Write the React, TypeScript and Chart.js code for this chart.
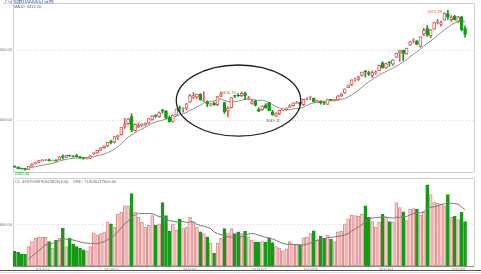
import React, { useEffect, useRef } from "react";
import { Chart, registerables } from "chart.js";

Chart.register(...registerables);

const dates: string[] = [
  "2014/10/22", "2014/10/23", "2014/10/24", "2014/10/27", "2014/10/28", "2014/10/29", "2014/10/30", "2014/10/31",
  "2014/11/03", "2014/11/04", "2014/11/05", "2014/11/06", "2014/11/07", "2014/11/10", "2014/11/11", "2014/11/12", "2014/11/13", "2014/11/14",
  "2014/11/17", "2014/11/18", "2014/11/19", "2014/11/20", "2014/11/21", "2014/11/24", "2014/11/25", "2014/11/26", "2014/11/27", "2014/11/28",
  "2014/12/01", "2014/12/02", "2014/12/03", "2014/12/04", "2014/12/05", "2014/12/08", "2014/12/09", "2014/12/10", "2014/12/11", "2014/12/12",
  "2014/12/15", "2014/12/16", "2014/12/17", "2014/12/18", "2014/12/19", "2014/12/22", "2014/12/23", "2014/12/24", "2014/12/25", "2014/12/26",
  "2014/12/29", "2014/12/30", "2014/12/31",
  "2015/01/05", "2015/01/06", "2015/01/07", "2015/01/08", "2015/01/09", "2015/01/12", "2015/01/13", "2015/01/14", "2015/01/15", "2015/01/16",
  "2015/01/19", "2015/01/20", "2015/01/21", "2015/01/22", "2015/01/23", "2015/01/26", "2015/01/27", "2015/01/28", "2015/01/29", "2015/01/30",
  "2015/02/02", "2015/02/03", "2015/02/04", "2015/02/05", "2015/02/06", "2015/02/09", "2015/02/10", "2015/02/11", "2015/02/12", "2015/02/13",
  "2015/02/16", "2015/02/17", "2015/02/25", "2015/02/26", "2015/02/27",
  "2015/03/02", "2015/03/03", "2015/03/04", "2015/03/05", "2015/03/06", "2015/03/09", "2015/03/10", "2015/03/11", "2015/03/12", "2015/03/13",
  "2015/03/16", "2015/03/17", "2015/03/18", "2015/03/19", "2015/03/20", "2015/03/23", "2015/03/24", "2015/03/25", "2015/03/26", "2015/03/27",
  "2015/03/30", "2015/03/31",
  "2015/04/01", "2015/04/02", "2015/04/03", "2015/04/07", "2015/04/08", "2015/04/09", "2015/04/10", "2015/04/13", "2015/04/14", "2015/04/15",
  "2015/04/16", "2015/04/17", "2015/04/20", "2015/04/21", "2015/04/22", "2015/04/23", "2015/04/24", "2015/04/27", "2015/04/28", "2015/04/29",
  "2015/04/30",
  "2015/05/04", "2015/05/05", "2015/05/06",
];

const opens: number[] = [
  2340, 2325, 2306, 2300, 2292, 2340, 2372, 2395,
  2418, 2428, 2435, 2415, 2428, 2430, 2480, 2465, 2495, 2486, 2490, 2475, 2458, 2448, 2450, 2520, 2530, 2568, 2605, 2630,
  2700, 2680, 2760, 2790, 2910, 2950, 3050, 2850, 2900, 2925, 2930, 2955, 3010, 3070, 3050, 3140, 3125, 3040, 2980, 3075, 3180, 3160, 3170,
  3258, 3330, 3327, 3371, 3270, 3258, 3217, 3240, 3221, 3343, 3250, 3130, 3180, 3350, 3360, 3350, 3385, 3300, 3240, 3273,
  3150, 3150, 3212, 3250, 3120, 3055, 3092, 3143, 3154, 3186, 3206, 3240, 3258, 3222, 3297,
  3332, 3317, 3264, 3264, 3250, 3225, 3298, 3287, 3291, 3350, 3391, 3466, 3510, 3578, 3582, 3641, 3700, 3680, 3640, 3680, 3710, 3822,
  3748, 3835, 3803, 3899, 3962, 4000, 3950, 4073, 4130, 4135, 4056, 4236, 4312, 4209, 4304, 4399, 4371, 4432, 4528, 4441, 4488,
  4420, 4479, 4311,
];

const highs: number[] = [
  2345, 2330, 2310, 2302, 2338, 2375, 2395, 2423,
  2435, 2438, 2442, 2428, 2435, 2478, 2503, 2495, 2500, 2490, 2508, 2480, 2462, 2458, 2490, 2535, 2568, 2605, 2632, 2683,
  2715, 2765, 2785, 2900, 3026, 3025, 3091, 2945, 2960, 2950, 2960, 3022, 3065, 3080, 3120, 3157, 3140, 3060, 3075, 3158, 3200, 3180, 3239,
  3370, 3394, 3374, 3381, 3404, 3275, 3245, 3262, 3336, 3400, 3260, 3190, 3323, 3360, 3375, 3406.79, 3400, 3340, 3290, 3288,
  3176, 3205, 3238, 3253, 3140, 3105, 3141, 3160, 3175, 3220, 3247, 3270, 3260, 3300, 3324,
  3337, 3317, 3286, 3280, 3266, 3303, 3298, 3298, 3350, 3384, 3449, 3503, 3578, 3601, 3632, 3688, 3715, 3700, 3705, 3706, 3790, 3835,
  3817, 3835, 3866, 3961, 4000, 4003, 4034, 4128, 4168, 4140, 4194, 4317, 4356, 4300, 4400, 4444, 4420, 4529, 4572.39, 4499, 4502,
  4488, 4489, 4350,
];

const lows: number[] = [
  2320, 2300, 2295, 2282.54, 2290, 2338, 2368, 2392,
  2410, 2418, 2410, 2410, 2412, 2428, 2440, 2460, 2478, 2468, 2470, 2455, 2440, 2440, 2448, 2505, 2525, 2560, 2595, 2620,
  2660, 2670, 2720, 2785, 2880, 2930, 2834, 2840, 2890, 2910, 2920, 2945, 3000, 3040, 3040, 3100, 3020, 2970, 2970, 3070, 3110, 3115, 3150,
  3254, 3303, 3312, 3285, 3267, 3191, 3200, 3210, 3207, 3337, 3095, 3045, 3170, 3320, 3340, 3337, 3295, 3290, 3230, 3205,
  3122, 3140, 3170, 3135, 3070, 3049.11, 3080, 3135, 3140, 3178, 3200, 3238, 3212, 3210, 3290,
  3293, 3260, 3250, 3230, 3221, 3225, 3276, 3273, 3283, 3340, 3383, 3465, 3494, 3557, 3570, 3630, 3617, 3640, 3609, 3655, 3707, 3745,
  3742, 3771, 3785, 3899, 3843, 3855, 3940, 4070, 4110, 4081, 4045, 4211, 4199, 4180, 4299, 4380, 4348, 4432, 4442, 4413, 4434,
  4400, 4280, 4189,
];

const closes: number[] = [
  2327, 2302, 2302, 2290, 2337, 2373, 2391, 2420,
  2430, 2431, 2419, 2425, 2418, 2473, 2469, 2494, 2485, 2478, 2474, 2456, 2450, 2452, 2487, 2532, 2567, 2604, 2630, 2683,
  2680, 2763, 2779, 2899, 2937, 3020, 2856, 2940, 2925, 2938, 2953, 3021, 3061, 3057, 3108, 3128, 3032, 2977, 3072, 3157, 3168, 3165, 3234,
  3350, 3351, 3373, 3293, 3285, 3229, 3235, 3222, 3336, 3376, 3117, 3173, 3323, 3343, 3351, 3383, 3352, 3305, 3262, 3210,
  3128, 3204, 3174, 3136, 3075, 3095, 3141, 3157, 3173, 3203, 3246, 3247, 3228, 3298, 3310,
  3336, 3263, 3279, 3248, 3241, 3302, 3286, 3290, 3349, 3372, 3449, 3502, 3577, 3582, 3617, 3687, 3691, 3660, 3682, 3691, 3786, 3748,
  3810, 3825, 3863, 3961, 3995, 3957, 4034, 4121, 4135, 4084, 4194, 4287, 4217, 4293, 4398, 4414, 4393, 4527, 4476, 4476, 4441,
  4480, 4298, 4229,
];

// turnover, 亿元
const volumes: number[] = [
  1620, 1550, 1330, 1330, 2160, 2700, 3060, 3240,
  3170, 3170, 2700, 1980, 2880, 3060, 4210, 2160, 3060, 2410, 2160, 1980, 1800, 1690, 2160, 3670, 3420, 3600, 3780, 4860,
  4680, 4320, 5760, 5940, 6660, 6660, 8030, 5940, 5400, 4860, 4320, 4500, 5580, 4500, 4680, 7020, 5580, 3850, 4680, 3960, 5220, 4140, 4320,
  5400, 4860, 4320, 3780, 3600, 3240, 2520, 1440, 2520, 3060, 4140, 3600, 4140, 3600, 3780, 3600, 3850, 3240, 2880, 2630,
  2630, 2700, 2630, 3130, 2590, 2160, 1980, 1690, 1910, 2700, 2410, 2410, 2340, 3130, 3240,
  3600, 3890, 2880, 3310, 3060, 3420, 2950, 2700, 3780, 3850, 4680, 5220, 5650, 5580, 5510, 5760, 6660, 5400, 4930, 4320, 4860, 5760,
  5400, 4930, 4860, 7020, 6480, 6010, 5040, 6300, 6370, 6300, 5650, 5940, 9000, 7920, 7020, 6950, 6840, 6660, 7920, 5400, 5510,
  5150, 5940, 4930,
];

const priceTicks: number[] = [3000, 4000];
const volumeTicks: number[] = [4600];
const volumeTickLabels: string[] = ["4600.00"];

const titleText = "上证指数(000001) 日线";
const volumeLegend = "CL: 493753397644.8820(100)    ORD: 714536217600.00";

const annotations: { index: number; value: number; text: string; pos: "left" | "below" }[] = [
  { index: 126, value: 4572.39, text: "4572.39→", pos: "left" },
  { index: 66, value: 3406.79, text: "3406.79→", pos: "left" },
  { index: 76, value: 3049.11, text: "3049.11", pos: "below" },
  { index: 3, value: 2282.54, text: "2282.54", pos: "below" },
];

const ellipseBox = { fromIndex: 47, toIndex: 83.2, low: 2770, high: 3790 };

const MA_PERIOD = 10;
const FONT = "'Liberation Sans', 'DejaVu Sans', sans-serif";
const RED = "#d65a55";
const GREEN = "#169a16";
const X_MIN = -0.5;
const X_MAX = 133.6;

function movingAverage(vals: number[], n: number, padZero: boolean, start: number) {
  return vals.map((_, i) => {
    if (i < start) return null;
    const s = Math.max(0, i - n + 1);
    let sum = 0;
    for (let k = s; k <= i; k++) sum += vals[k];
    return sum / (padZero ? n : i - s + 1);
  });
}

function monthLabel(i: number) {
  return dates[i] ? dates[i].slice(0, 7) : "";
}

const monthStarts: number[] = dates
  .map((d, i) => (i > 0 && d.slice(0, 7) !== dates[i - 1].slice(0, 7) ? i : -1))
  .filter((i) => i > 0);

function framePlugin(bottomColor: string) {
  return {
    id: "frame" + bottomColor.replace("#", ""),
    beforeDatasetsDraw(chart: any) {
      const { ctx, chartArea: a } = chart;
      ctx.save();
      ctx.strokeStyle = "#cfcfcf";
      ctx.lineWidth = 1;
      ctx.beginPath();
      ctx.moveTo(Math.round(a.left) + 0.5, a.bottom);
      ctx.lineTo(Math.round(a.left) + 0.5, Math.round(a.top) + 0.5);
      ctx.lineTo(Math.round(a.right) + 0.5, Math.round(a.top) + 0.5);
      ctx.lineTo(Math.round(a.right) + 0.5, a.bottom);
      ctx.stroke();
      ctx.strokeStyle = bottomColor;
      ctx.beginPath();
      ctx.moveTo(a.left, Math.round(a.bottom) + 0.5);
      ctx.lineTo(a.right, Math.round(a.bottom) + 0.5);
      ctx.stroke();
      ctx.restore();
    },
  };
}

export default function App() {
  const topRef = useRef<HTMLCanvasElement>(null);
  const volRef = useRef<HTMLCanvasElement>(null);

  useEffect(() => {
    const idx = dates.map((_, i) => i);
    const up = idx.map((i) => closes[i] >= opens[i]);
    const priceMA = movingAverage(closes, MA_PERIOD, false, 1);
    const volMA = movingAverage(volumes, MA_PERIOD, true, 4);
    const lastMA = priceMA[priceMA.length - 1] as number;

    const topPlugin = {
      id: "topDecor",
      afterDatasetsDraw(chart: any) {
        const { ctx, scales } = chart;
        const x = scales.x;
        const y = scales.y;
        ctx.save();
        const x1 = x.getPixelForValue(ellipseBox.fromIndex);
        const x2 = x.getPixelForValue(ellipseBox.toIndex);
        const y1 = y.getPixelForValue(ellipseBox.high);
        const y2 = y.getPixelForValue(ellipseBox.low);
        ctx.strokeStyle = "#222";
        ctx.lineWidth = 1.3;
        ctx.beginPath();
        ctx.ellipse((x1 + x2) / 2, (y1 + y2) / 2, (x2 - x1) / 2, (y2 - y1) / 2, 0, 0, Math.PI * 2);
        ctx.stroke();
        ctx.font = `4px ${FONT}`;
        annotations.forEach((a) => {
          const px = x.getPixelForValue(a.index);
          const py = y.getPixelForValue(a.value);
          if (a.pos === "left") {
            ctx.fillStyle = RED;
            ctx.textAlign = "right";
            ctx.textBaseline = "middle";
            ctx.fillText(a.text, px - 2, py + 1);
          } else {
            ctx.fillStyle = GREEN;
            ctx.textAlign = "center";
            ctx.textBaseline = "top";
            ctx.fillText(a.text, px - 3, py + 2);
          }
        });
        ctx.textAlign = "left";
        ctx.textBaseline = "alphabetic";
        ctx.fillStyle = "#3556a8";
        ctx.font = `5px ${FONT}`;
        ctx.fillText(titleText, 3, 2.5);
        ctx.fillStyle = "#666";
        ctx.font = `4px ${FONT}`;
        ctx.fillText(`MA${MA_PERIOD}: ${lastMA.toFixed(2)}`, 14, 8);
        ctx.restore();
      },
    };

    const volPlugin = {
      id: "volDecor",
      afterDatasetsDraw(chart: any) {
        const { ctx, chartArea: a, width } = chart;
        ctx.save();
        ctx.fillStyle = "#666";
        ctx.font = `4px ${FONT}`;
        ctx.textAlign = "left";
        ctx.textBaseline = "top";
        ctx.fillText(volumeLegend, a.left + 2, a.top + 1);
        ctx.strokeStyle = "#555";
        ctx.lineWidth = 1;
        ctx.beginPath();
        ctx.moveTo(0, 95.5);
        ctx.lineTo(width, 95.5);
        ctx.stroke();
        ctx.strokeStyle = "#dddddd";
        ctx.beginPath();
        ctx.moveTo(0, 97.5);
        ctx.lineTo(width, 97.5);
        ctx.stroke();
        ctx.restore();
      },
    };

    const c1 = new Chart(topRef.current as HTMLCanvasElement, {
      type: "bar",
      data: {
        datasets: [
          {
            type: "bar",
            label: "body",
            data: idx.map((i) => ({ x: i, y: [opens[i], closes[i]] })) as any,
            backgroundColor: idx.map((i) => (up[i] ? "#ffffff" : GREEN)),
            borderColor: idx.map((i) => (up[i] ? RED : GREEN)),
            borderWidth: 1,
            borderSkipped: false,
            barThickness: 3,
            grouped: false,
            order: 0,
          } as any,
          {
            type: "bar",
            label: "wick",
            data: idx.map((i) => ({ x: i, y: [lows[i], highs[i]] })) as any,
            backgroundColor: idx.map((i) => (up[i] ? RED : GREEN)),
            borderWidth: 0,
            barThickness: 1,
            grouped: false,
            order: 1,
          } as any,
          {
            type: "line",
            label: "MA",
            data: idx.map((i) => ({ x: i, y: priceMA[i] })) as any,
            borderColor: "#8f8f8f",
            borderWidth: 1,
            pointRadius: 0,
            tension: 0,
            order: 2,
          } as any,
        ],
      },
      options: {
        animation: false,
        responsive: false,
        maintainAspectRatio: false,
        layout: { padding: { top: 3, right: 7, bottom: 8, left: 0 } },
        plugins: { legend: { display: false }, tooltip: { enabled: false } },
        scales: {
          x: { type: "linear", min: X_MIN, max: X_MAX, offset: false, display: false, grid: { offset: false } },
          y: {
            type: "linear",
            min: 2256,
            max: 4673,
            afterFit: (s: any) => {
              s.width = 13;
            },
            afterBuildTicks: (s: any) => {
              s.ticks = priceTicks.map((v) => ({ value: v }));
            },
            ticks: {
              font: { size: 4, family: FONT },
              color: "#777",
              padding: 1,
              callback: (v: any) => Number(v).toFixed(2),
            },
            grid: { color: "#d6d6d6", drawTicks: false, lineWidth: 1 },
            border: { display: false, dash: [1, 2] },
          },
        },
      } as any,
      plugins: [framePlugin("#cfcfcf"), topPlugin],
    });

    const c2 = new Chart(volRef.current as HTMLCanvasElement, {
      type: "bar",
      data: {
        datasets: [
          {
            type: "bar",
            label: "volume",
            data: idx.map((i) => ({ x: i, y: volumes[i] })) as any,
            backgroundColor: idx.map((i) => (up[i] ? "#f7d2d2" : GREEN)),
            borderColor: idx.map((i) => (up[i] ? "#e08a8a" : GREEN)),
            borderWidth: 1,
            borderSkipped: false,
            barThickness: 3,
            grouped: false,
            order: 1,
          } as any,
          {
            type: "line",
            label: "volMA",
            data: idx.map((i) => ({ x: i, y: volMA[i] })) as any,
            borderColor: "#777",
            borderWidth: 1,
            pointRadius: 0,
            tension: 0,
            order: 0,
          } as any,
        ],
      },
      options: {
        animation: false,
        responsive: false,
        maintainAspectRatio: false,
        layout: { padding: { top: 1, right: 7, bottom: 0, left: 0 } },
        plugins: { legend: { display: false }, tooltip: { enabled: false } },
        scales: {
          x: {
            type: "linear",
            min: X_MIN,
            max: X_MAX,
            offset: false,
            afterFit: (s: any) => {
              s.height = 8;
            },
            afterBuildTicks: (s: any) => {
              s.ticks = monthStarts.map((v) => ({ value: v }));
            },
            ticks: {
              font: { size: 4, family: FONT },
              color: "#777",
              padding: 1,
              maxRotation: 0,
              autoSkip: false,
              callback: (v: any) => monthLabel(Number(v)),
            },
            grid: { display: false, drawTicks: false, offset: false },
            border: { display: false },
          },
          y: {
            type: "linear",
            min: 0,
            max: 9700,
            afterFit: (s: any) => {
              s.width = 13;
            },
            afterBuildTicks: (s: any) => {
              s.ticks = volumeTicks.map((v) => ({ value: v }));
            },
            ticks: {
              font: { size: 4, family: FONT },
              color: "#777",
              padding: 1,
              callback: (_v: any, i: number) => volumeTickLabels[i],
            },
            grid: { color: "#d6d6d6", drawTicks: false, lineWidth: 1 },
            border: { display: false, dash: [1, 2] },
          },
        },
      } as any,
      plugins: [framePlugin("#888888"), volPlugin],
    });

    return () => {
      c1.destroy();
      c2.destroy();
    };
  }, []);

  return (
    <div
      style={{
        position: "fixed",
        left: 0,
        top: 0,
        width: 481,
        height: 274,
        background: "#ffffff",
        overflow: "hidden",
      }}
    >
      <canvas ref={topRef} width={481} height={180} style={{ position: "absolute", left: 0, top: 0 }} />
      <canvas ref={volRef} width={481} height={99} style={{ position: "absolute", left: 0, top: 175 }} />
    </div>
  );
}
